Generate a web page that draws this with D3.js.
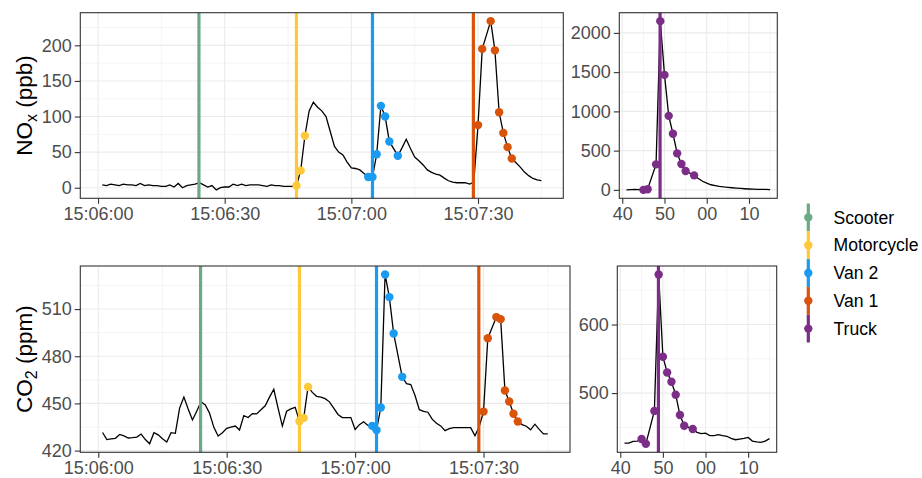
<!DOCTYPE html>
<html>
<head>
<meta charset="utf-8">
<script src="https://cdn.jsdelivr.net/npm/d3@7"></script>
<style>
  body { margin: 0; background: #fff; }
  text { font-family: "Liberation Sans", Arial, sans-serif; }
</style>
</head>
<body>
<div id="chart"></div>
<script>
// seconds after 15:06:00 (1 Hz, a couple of samples missing)
var mainT = [1,2,3,4,5,6,7,8,9,10,11,12,13,14,15,16,17,18,19,20,
  21,22,23,24,25,26,27,28,29,30,31,32,33,34,35,36,37,38,39,40,
  41,42,43,44,45,46,47,48,49,50,51,52,53,54,55,56,57,58,59,60,
  61,62,63,64,65,66,67,68,69,71,72,73,74,75,76,77,78,79,80,81,
  82,83,84,85,86,87,88,89,90,91,93,94,95,96,97,98,99,100,101,102,
  103,104,105];

var noxMain = [4,3,5,4,3,5,4,4,3,6,3,4,3,3,2,2,4,1,6,0,
  3,4,5,7,4,1,3,-3,0,1,1,5,3,5,3,4,4,4,3,2,
  4,3,3,2,2,2,3,24,73,108,120,113,108,100,79,58,50,46,36,28,
  27,25,20,15,15,47,115,100,65,45,56,68,55,43,38,32,25,21.5,19,17.7,
  13.5,9.8,8,7,7.3,7,5,7.5,88,195,234,193,106,77,57,41,35,29,22,17,
  13,11,10];

var co2Main = [431.5,427,427.5,427.8,430.3,429.3,428,428.2,428.6,430.5,
  427,424.3,431.4,430,427.5,425.5,431.4,431,447,454,
  446.5,439.5,445,451,449,443.7,434.8,429.3,431.4,434.2,
  435,435.6,433.1,442.2,441,443.5,443.3,446,448.5,454,
  459,447,435.6,445,446.5,447.5,438.7,440.8,460.5,457,
  454.5,454,453,451,447,443,441,441,441,433.4,
  436.5,438.3,436,435.7,433,447.4,532,517.6,494.5,466.9,
  462.6,462,455,446,445,444.4,440,437.4,435.7,432.7,
  434,434.6,434.6,434.6,434.6,434.6,429.4,435.3,444.8,491.5,
  504.9,503.6,458.2,451.2,443.4,438.5,436.5,435.5,433.2,436.8,
  433.5,430.6,430.6];

// truck pass, seconds of the minute
var truckT = [41,42,43,44,45,46,48,49,50,51,52,53,54,55,57,58,59,60,61,62,
  63,64,65,66,67,68,69,70,71,72,73,74,75];
var noxTruck = [0,2,5,3,0,8,325,2150,1465,943,715,465,330,240,185,145,110,85,65,55,
  45,37,32,27,22,18,14,11,9,7,6,5,4];
var co2Truck = [427,427,429.6,430,433,426,474,673,553,530,516.5,497.6,468,452.4,447.6,442.7,440.8,441.7,438,438,
  439.3,438,437,434,432,433,434,435.4,430,429,428.2,430,433.5];

var vehicles = ['Scooter', 'Motorcycle', 'Van 2', 'Van 1', 'Truck'];
var vehColors = ['#6aaa84', '#ffc83a', '#1a9af0', '#d9530a', '#7b2d87'];
var passTimes = [23.9, 47, 65, 88.9, 48.95];
var passPoints = [[], [47,48,49], [64,65,66,67,68,69,71], [90,91,93,94,95,96,97,98],
  [45,46,48,49,50,51,52,53,54,55,57]];

var mainTicks = [0, 30, 60, 90];
var mainTickLabels = ['15:06:00', '15:06:30', '15:07:00', '15:07:30'];
var truckTicks = [40, 50, 60, 70];
var truckTickLabels = ['40', '50', '00', '10'];

var svg = d3.select('#chart').append('svg')
  .attr('width', 922).attr('height', 478);

var colorOf = d3.scaleOrdinal().domain(vehicles).range(vehColors);

function expand(ext) {
  var p = (ext[1] - ext[0]) * 0.05;
  return [ext[0] - p, ext[1] + p];
}

function drawPanel(box, t, v, xTicks, xLabels, yTicks, yStep, vehIdx) {
  var xStep = xTicks[1] - xTicks[0];
  var x = d3.scaleLinear().domain(expand(d3.extent(t))).range([box.x0, box.x1]);
  var y = d3.scaleLinear().domain(expand(d3.extent(v))).range([box.y1, box.y0]);
  var g = svg.append('g');

  g.append('rect').attr('x', box.x0).attr('y', box.y0)
    .attr('width', box.x1 - box.x0).attr('height', box.y1 - box.y0).attr('fill', '#fff');

  var xd = x.domain(), yd = y.domain();
  var xMinor = d3.range(xTicks[0] - xStep / 2, xd[1], xStep).filter(function(d) { return d > xd[0]; });
  var yMinor = d3.range(yTicks[0] - yStep * 4.5, yd[1], yStep).filter(function(d) { return d > yd[0] && yTicks.indexOf(d) < 0; });

  g.selectAll('.xmin').data(xMinor).enter().append('line')
    .attr('x1', x).attr('x2', x).attr('y1', box.y0).attr('y2', box.y1)
    .attr('stroke', '#ebebeb').attr('stroke-width', 0.55);
  g.selectAll('.ymin').data(yMinor).enter().append('line')
    .attr('y1', y).attr('y2', y).attr('x1', box.x0).attr('x2', box.x1)
    .attr('stroke', '#ebebeb').attr('stroke-width', 0.55);
  g.selectAll('.xmaj').data(xTicks).enter().append('line')
    .attr('x1', x).attr('x2', x).attr('y1', box.y0).attr('y2', box.y1)
    .attr('stroke', '#ebebeb').attr('stroke-width', 1.1);
  g.selectAll('.ymaj').data(yTicks).enter().append('line')
    .attr('y1', y).attr('y2', y).attr('x1', box.x0).attr('x2', box.x1)
    .attr('stroke', '#ebebeb').attr('stroke-width', 1.1);

  var rows = t.map(function(d, i) { return { t: d, v: v[i] }; });
  g.append('path').datum(rows)
    .attr('d', d3.line().x(function(d) { return x(d.t); }).y(function(d) { return y(d.v); }))
    .attr('fill', 'none').attr('stroke', '#000').attr('stroke-width', 1.3);

  vehIdx.forEach(function(k) {
    g.append('line')
      .attr('x1', x(passTimes[k])).attr('x2', x(passTimes[k]))
      .attr('y1', box.y0).attr('y2', box.y1)
      .attr('stroke', colorOf(vehicles[k])).attr('stroke-width', 3.2);
  });
  vehIdx.forEach(function(k) {
    var pts = rows.filter(function(d) { return passPoints[k].indexOf(d.t) >= 0; });
    g.selectAll(null).data(pts).enter().append('circle')
      .attr('cx', function(d) { return x(d.t); })
      .attr('cy', function(d) { return y(d.v); })
      .attr('r', 4.2).attr('fill', colorOf(vehicles[k]));
  });

  g.append('rect').attr('x', box.x0).attr('y', box.y0)
    .attr('width', box.x1 - box.x0).attr('height', box.y1 - box.y0)
    .attr('fill', 'none').attr('stroke', '#333').attr('stroke-width', 1.1);

  var ax = g.append('g').attr('transform', 'translate(0,' + box.y1 + ')')
    .call(d3.axisBottom(x).tickValues(xTicks).tickSize(5.5).tickPadding(3.5)
      .tickFormat(function(d, i) { return xLabels[i]; }));
  var ay = g.append('g').attr('transform', 'translate(' + box.x0 + ',0)')
    .call(d3.axisLeft(y).tickValues(yTicks).tickSize(5.5).tickPadding(3)
      .tickFormat(d3.format('d')));
  [ax, ay].forEach(function(a) {
    a.select('.domain').remove();
    a.selectAll('.tick line').attr('stroke', '#333').attr('stroke-width', 1.1);
    a.selectAll('.tick text').attr('fill', '#4d4d4d').style('font-size', '18px')
      .style('font-family', '"Liberation Sans", Arial, sans-serif');
  });
}

var topBox = { y0: 12.7, y1: 198.3 }, botBox = { y0: 266, y1: 452.3 };

drawPanel({ x0: 80.3, x1: 563.3, y0: topBox.y0, y1: topBox.y1 }, mainT, noxMain,
  mainTicks, mainTickLabels, [0, 50, 100, 150, 200], 50, [0, 1, 2, 3]);
drawPanel({ x0: 619.3, x1: 777.3, y0: topBox.y0, y1: topBox.y1 }, truckT, noxTruck,
  truckTicks, truckTickLabels, [0, 500, 1000, 1500, 2000], 500, [4]);
drawPanel({ x0: 80.3, x1: 570, y0: botBox.y0, y1: botBox.y1 }, mainT, co2Main,
  mainTicks, mainTickLabels, [420, 450, 480, 510], 30, [0, 1, 2, 3]);
drawPanel({ x0: 617.3, x1: 776.7, y0: botBox.y0, y1: botBox.y1 }, truckT, co2Truck,
  truckTicks, truckTickLabels, [500, 600], 100, [4]);

// y titles with subscripts
function yTitle(cy, main, sub, rest) {
  var t = svg.append('text')
    .attr('transform', 'translate(31.5,' + cy + ') rotate(-90)')
    .attr('text-anchor', 'middle').attr('fill', '#000').style('font-size', '22.5px');
  t.append('tspan').text(main);
  t.append('tspan').text(sub).attr('dy', 5).style('font-size', '16px');
  t.append('tspan').text(rest).attr('dy', -5);
}
yTitle((topBox.y0 + topBox.y1) / 2, 'NO', 'x', ' (ppb)');
yTitle((botBox.y0 + botBox.y1) / 2, 'CO', '2', ' (ppm)');

// legend
var legY0 = 203.5, keyH = 27.8, keyX = 808.3;
var leg = svg.append('g');
vehicles.forEach(function(name, i) {
  var cy = legY0 + keyH * (i + 0.5);
  leg.append('line').attr('x1', keyX).attr('x2', keyX)
    .attr('y1', legY0 + keyH * i).attr('y2', legY0 + keyH * (i + 1))
    .attr('stroke', colorOf(name)).attr('stroke-width', 3.2);
  leg.append('circle').attr('cx', keyX).attr('cy', cy).attr('r', 4.2).attr('fill', colorOf(name));
  leg.append('text').attr('x', 833.5).attr('y', cy).attr('dy', '0.35em')
    .attr('fill', '#000').style('font-size', '17.6px').text(name);
});
</script>
</body>
</html>
